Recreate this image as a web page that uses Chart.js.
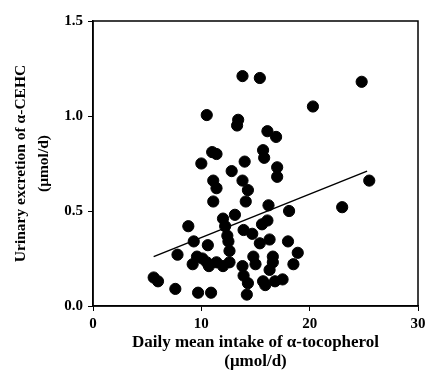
<!DOCTYPE html>
<html>
<head>
<meta charset="utf-8">
<script src="https://cdn.jsdelivr.net/npm/chart.js@4"></script>
<style>
  body { margin: 0; background: #fff; }
  #wrap { width: 426px; height: 375px; }
</style>
</head>
<body>
<div id="wrap"><canvas id="chart" width="426" height="375"></canvas></div>
<script>
// intake of alpha-tocopherol (umol/d) vs urinary alpha-CEHC (umol/d)
const intake = [5.6, 6.0, 7.6, 7.8, 8.8, 9.2, 9.3, 9.6, 9.7, 10.0, 10.1, 10.5, 10.5, 10.6, 10.7, 10.9,
  11.0, 11.4, 11.1, 11.4, 11.1, 11.4, 12.0, 12.6, 12.0, 12.2, 12.4, 12.5, 12.6, 12.8, 13.1, 13.4,
  13.3, 13.8, 13.8, 14.0, 14.3, 14.1, 13.9, 14.7, 13.8, 13.9, 14.3, 14.2, 14.8, 15.0, 15.4, 16.3,
  15.4, 15.7, 15.8, 15.7, 15.9, 16.1, 16.9, 16.1, 15.6, 16.2, 16.6, 16.6, 16.3, 16.8, 17.5, 17.0,
  17.0, 18.0, 18.1, 18.5, 18.9, 20.3, 23.0, 24.8, 25.5];
const excretion = [0.15, 0.13, 0.09, 0.27, 0.42, 0.22, 0.34, 0.26, 0.07, 0.75, 0.25, 1.005, 0.23, 0.32, 0.21, 0.07,
  0.81, 0.80, 0.66, 0.62, 0.55, 0.23, 0.21, 0.23, 0.46, 0.42, 0.37, 0.34, 0.29, 0.71, 0.48, 0.98,
  0.95, 1.21, 0.66, 0.76, 0.61, 0.55, 0.40, 0.38, 0.21, 0.16, 0.12, 0.06, 0.26, 0.22, 0.33, 0.35,
  1.20, 0.82, 0.78, 0.13, 0.11, 0.92, 0.89, 0.45, 0.43, 0.53, 0.26, 0.23, 0.19, 0.13, 0.14, 0.73,
  0.68, 0.34, 0.50, 0.22, 0.28, 1.05, 0.52, 1.18, 0.66];

// regression line end points
const fitX = [5.6, 25.3];
const fitY = [0.26, 0.71];

const xTicks = [0, 10, 20, 30];
const yTicks = [0, 0.5, 1.0, 1.5];

const serif = "'Liberation Serif', 'DejaVu Serif', serif";

const frame = {
  id: 'frame',
  afterDatasetsDraw(chart) {
    const a = chart.chartArea;
    const ctx = chart.ctx;
    ctx.save();
    ctx.strokeStyle = '#000';
    ctx.lineWidth = 1.5;
    ctx.strokeRect(a.left, a.top, a.right - a.left, a.bottom - a.top);
    ctx.restore();
  }
};

new Chart(document.getElementById('chart'), {
  type: 'scatter',
  data: {
    datasets: [
      {
        data: intake.map((x, i) => ({ x: x, y: excretion[i] })),
        backgroundColor: '#000',
        borderColor: '#000',
        pointRadius: 5.6,
        pointHoverRadius: 5.6
      },
      {
        type: 'line',
        data: fitX.map((x, i) => ({ x: x, y: fitY[i] })),
        borderColor: '#000',
        borderWidth: 1.5,
        pointRadius: 0,
        fill: false
      }
    ]
  },
  options: {
    responsive: false,
    animation: false,
    layout: { padding: { top: 21, right: 8, left: 0, bottom: 0 } },
    plugins: { legend: { display: false }, tooltip: { enabled: false } },
    scales: {
      x: {
        type: 'linear',
        min: 0, max: 30,
        afterBuildTicks: s => { s.ticks = xTicks.map(v => ({ value: v })); },
        afterFit: s => { s.height = 69; s.paddingRight = 0; s.paddingLeft = 0; },
        grid: { drawOnChartArea: false, drawTicks: true, tickLength: 5, color: '#000', lineWidth: 1 },
        border: { display: true, color: '#000', width: 1.5 },
        ticks: {
          color: '#000',
          padding: 4,
          font: { family: serif, size: 15, weight: 'bold' },
          callback: v => String(v)
        },
        title: {
          display: true,
          text: ['Daily mean intake of α-tocopherol', '(μmol/d)'],
          color: '#000',
          font: { family: serif, size: 17, weight: 'bold', lineHeight: 1.12 },
          padding: { top: 0, bottom: 3.5 }
        }
      },
      y: {
        type: 'linear',
        min: 0, max: 1.5,
        afterBuildTicks: s => { s.ticks = yTicks.map(v => ({ value: v })); },
        afterFit: s => { s.width = 93; },
        grid: { drawOnChartArea: false, drawTicks: true, tickLength: 5, color: '#000', lineWidth: 1 },
        border: { display: true, color: '#000', width: 1.5 },
        ticks: {
          color: '#000',
          padding: 5,
          font: { family: serif, size: 15, weight: 'bold' },
          callback: v => Number(v).toFixed(1)
        },
        title: {
          display: true,
          text: ['Urinary excretion of α-CEHC', '(μmol/d)'],
          color: '#000',
          font: { family: serif, size: 15.5, weight: 'bold', lineHeight: 1.45 },
          padding: { top: 10, bottom: 0 }
        }
      }
    }
  },
  plugins: [frame]
});
</script>
</body>
</html>
